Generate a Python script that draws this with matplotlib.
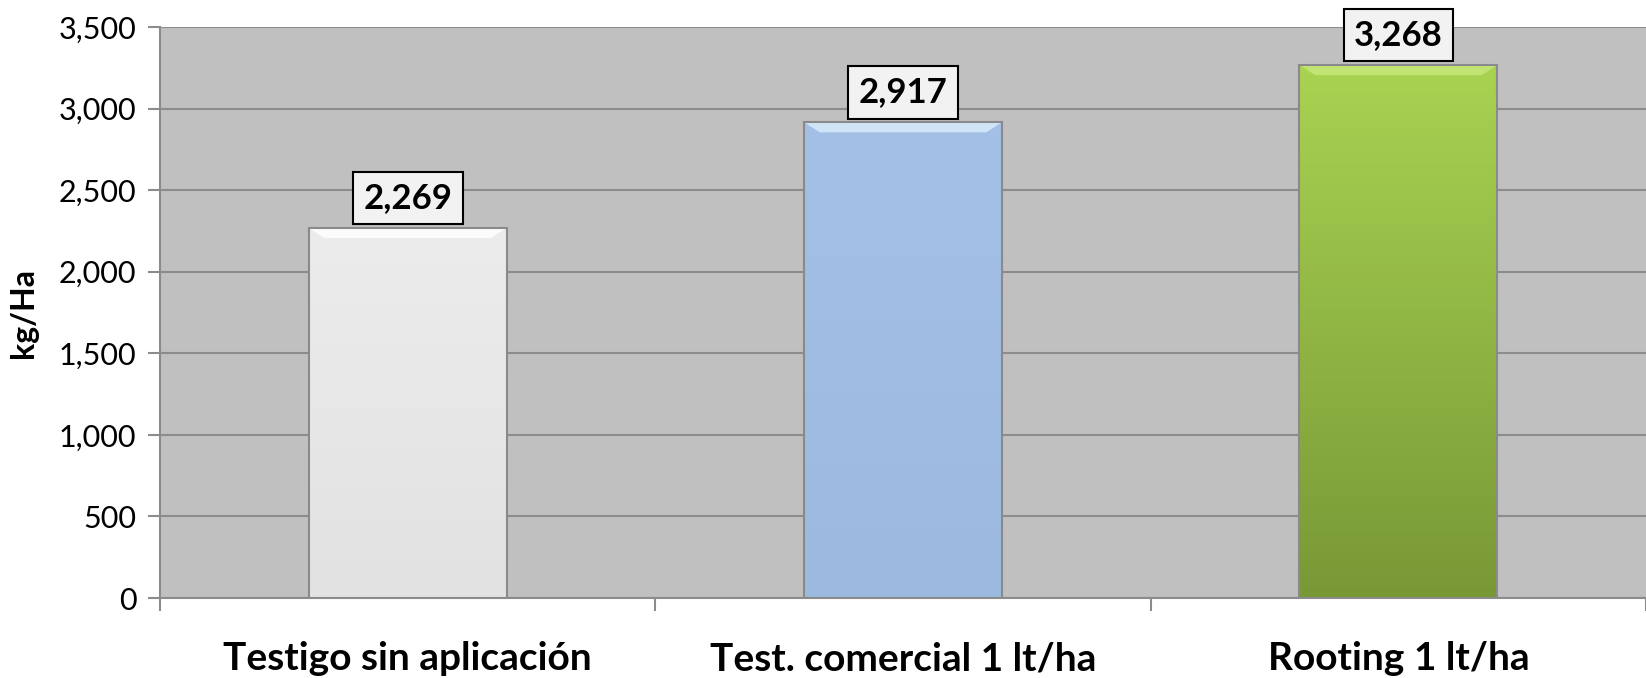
import matplotlib
matplotlib.use("Agg")
import matplotlib.pyplot as plt
import numpy as np
from matplotlib.colors import LinearSegmentedColormap
from matplotlib.patches import Polygon

categories = ["Testigo sin aplicación", "Test. comercial 1 lt/ha", "Rooting 1 lt/ha"]
values = [2269, 2917, 3268]
yticks = [0, 500, 1000, 1500, 2000, 2500, 3000, 3500]

plt.rcParams['font.family'] = ['Lato', 'DejaVu Sans']

fig = plt.figure(figsize=(16.46, 6.78), dpi=100)
ax = fig.add_axes([160/1646, 80/678, 1486/1646, 571/678])
ax.set_facecolor('#c0c0c0')

x = np.arange(len(categories))
face = ['#e5e5e5', '#a2bee4', '#96bf47']
bars = ax.bar(x, values, width=0.4, color=face, edgecolor='#8a8a8a', linewidth=1.5, zorder=3)

# gradients + bevel highlight
grads = [('#ececec', '#e2e2e2'), ('#a4c0e6', '#9cb9df'), ('#a9d352', '#789836')]
tops = ['#ffffff', '#d8ecfb', '#c4e878']
for b, (c1, c2), tc in zip(bars, grads, tops):
    cmap = LinearSegmentedColormap.from_list('g', [c2, c1])
    bb = b.get_bbox()
    img = ax.imshow(np.linspace(0, 1, 256).reshape(-1, 1), cmap=cmap, origin='lower',
                    extent=[bb.x0, bb.x1, bb.y0, bb.y1], aspect='auto', zorder=3.5)
    img.set_clip_path(b)
    b.set_facecolor('none')
    b.set_zorder(4)
    w = bb.x1 - bb.x0
    dx = w * 0.08
    dy = 3500 * 0.018
    poly = Polygon([[bb.x0, bb.y1], [bb.x1, bb.y1], [bb.x1 - dx, bb.y1 - dy], [bb.x0 + dx, bb.y1 - dy]],
                   closed=True, fc=tc, ec='none', alpha=0.85, zorder=3.8)
    ax.add_patch(poly)

ax.set_xlim(-0.5, len(categories) - 0.5)
ax.set_ylim(0, 3500)
ax.set_yticks(yticks)
ax.set_yticklabels([f"{v:,}" for v in yticks], fontsize=22)
ax.yaxis.grid(True, color='#8c8c8c', linewidth=1.5, zorder=0)
ax.set_axisbelow(True)

ax.set_xticks(x)
ax.set_xticklabels(categories, fontsize=28, fontweight='bold')
ax.tick_params(axis='x', length=0, pad=31)
ax.set_xticks(np.arange(-0.5, len(categories)), minor=True)
ax.tick_params(axis='x', which='minor', length=9, width=1.5, color='#8c8c8c', direction='out')
ax.tick_params(axis='y', length=9, width=1.5, color='#8c8c8c', pad=8)

for s in ['top', 'right']:
    ax.spines[s].set_visible(False)
for s in ['left', 'bottom']:
    ax.spines[s].set_color('#8c8c8c')
    ax.spines[s].set_linewidth(1.5)

ax.set_ylabel('kg/Ha', fontsize=23, fontweight='bold')
ax.yaxis.set_label_coords(-(160 - 38) / 1486, 0.5)

for xi, v in zip(x, values):
    ax.annotate(f"{v:,}", (xi, v), xytext=(0, 10), textcoords='offset points',
                ha='center', va='bottom', fontsize=25, fontweight='bold', zorder=6,
                bbox=dict(boxstyle='square,pad=0.3', fc='#f2f2f2', ec='black', lw=1.5))

fig.savefig('out.png', dpi=100)
